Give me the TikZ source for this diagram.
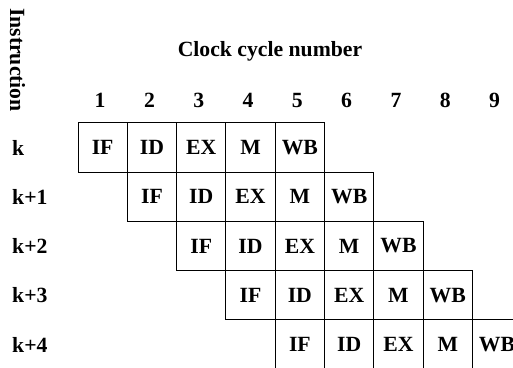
\documentclass[tikz,border=0pt]{standalone}
\usepackage{fontspec}
\setmainfont{Liberation Serif}
\usetikzlibrary{positioning}
\tikzstyle{heading} = [inner sep=0pt, font=\bfseries\fontsize{21.7}{26}\selectfont]
\tikzstyle{stage} = [rectangle, draw, line width=1pt, minimum width=49.3pt, minimum height=49.3pt, inner sep=0pt, font=\bfseries\fontsize{21.7}{26}\selectfont]

\begin{document}
\begin{tikzpicture}[x=1pt,y=-1pt]
\useasboundingbox (0,0) rectangle (513,367);
\clip (0,0) rectangle (513,367);

\node (title) [heading, anchor=base] at (270,56) {Clock cycle number};
\node (instr) [heading, rotate=-90] at (17.5,60) {Instruction};

% cycle numbers over the columns
\foreach \c in {1,...,9}
  \node (n\c) [heading, anchor=base] at ({78+49.3*(\c-0.5)-2.5},107) {\c};

% one staircase row per instruction
\foreach \row/\lab in {0/k,1/k+1,2/k+2,3/k+3,4/k+4} {
  \node (i\row) [heading, anchor=base west] at (12,{155+49.3*\row}) {\lab};
  \foreach \txt [count=\j from 0] in {IF,ID,EX,M,WB}
    \node (s\row\j) [stage] at ({78+49.3*(\row+\j+0.5)},{122.7+49.3*(\row+0.5)}) {\txt};
}
\end{tikzpicture}
\end{document}
